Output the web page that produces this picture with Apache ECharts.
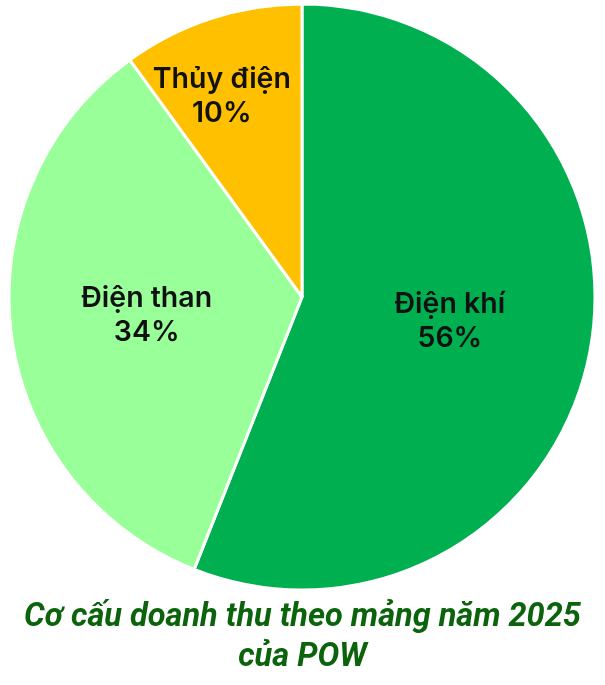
<!DOCTYPE html>
<html>
<head>
<meta charset="utf-8">
<script src="https://cdn.jsdelivr.net/npm/echarts@6/dist/echarts.min.js"></script>
<style>
  html, body { margin: 0; padding: 0; background: #ffffff; }
  #chart { width: 605px; height: 685px; }
</style>
</head>
<body>
<div id="chart"></div>
<script>
// dữ liệu
const categories = ['Điện khí', 'Điện than', 'Thủy điện'];
const values = [56, 34, 10];
const colors = ['#00b050', '#99ff99', '#ffc000'];
const titleText = 'Cơ cấu doanh thu theo mảng năm 2025\ncủa POW';

// nhãn Thủy điện bị đẩy ra ngoài hơn
const labelOffsets = [[1, -4], [-7, 0], [-34, -58]];

const myChart = echarts.init(document.getElementById('chart'), null, { renderer: 'canvas' });

const option = {
  animation: false,
  title: {
    text: titleText,
    left: 'center',
    top: 593,
    textStyle: {
      color: '#0b640b',
      fontSize: 32.5,
      fontWeight: 'bold',
      fontStyle: 'italic',
      fontFamily: 'Roboto, Inter, sans-serif',
      lineHeight: 40
    }
  },
  series: [{
    type: 'pie',
    radius: 293,
    center: [302, 297],
    startAngle: 90,
    clockwise: true,
    avoidLabelOverlap: false,
    itemStyle: {
      borderColor: '#ffffff',
      borderWidth: 3
    },
    label: {
      show: true,
      position: 'inside',
      formatter: '{b}\n{c}%',
      color: '#111111',
      fontFamily: 'Inter, sans-serif',
      fontWeight: 600,
      fontSize: 28.5,
      lineHeight: 34
    },
    labelLine: { show: false },
    emphasis: { disabled: true },
    data: categories.map((name, i) => ({
      name: name,
      value: values[i],
      itemStyle: { color: colors[i] },
      label: { offset: labelOffsets[i] }
    }))
  }]
};

myChart.setOption(option);
</script>
</body>
</html>
